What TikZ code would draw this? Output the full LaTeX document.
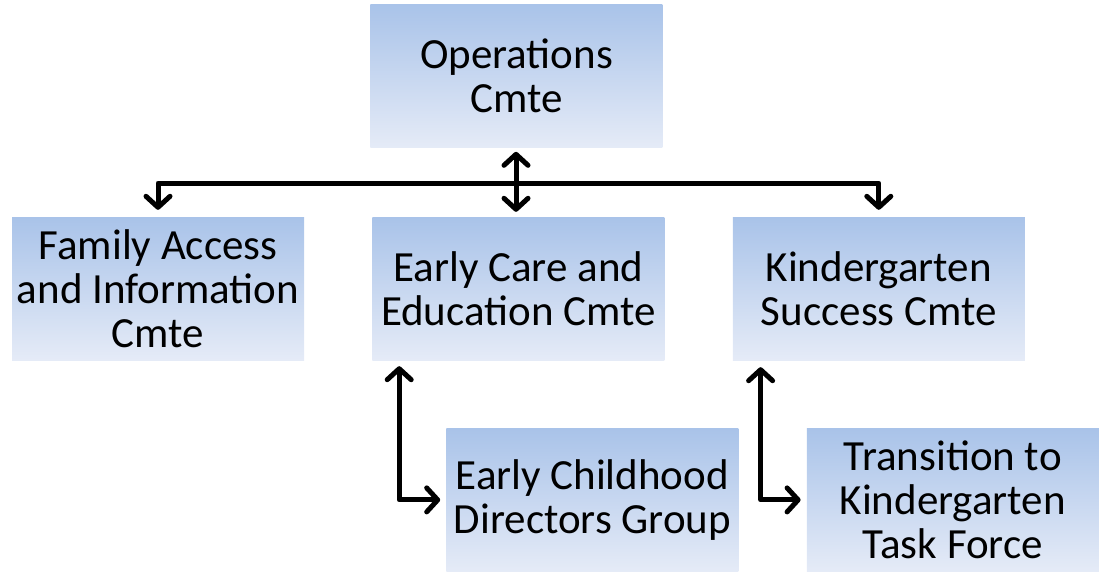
\documentclass[tikz,border=0pt]{standalone}
\usepackage{fontspec}
\setmainfont{Carlito}
\usetikzlibrary{positioning, arrows.meta}

\tikzset{
	cmte/.style={rectangle, minimum width=292pt, minimum height=143pt, inner sep=0pt,
		align=center, top color=cmtetop, bottom color=cmtebottom,
		font=\fontsize{43}{44}\selectfont},
	link/.style={line width=5pt, black, line cap=round, line join=round,
		>={Straight Barb[length=11pt, width=24pt, line cap=round, line join=round]}},
}
\definecolor{cmtetop}{RGB}{169,195,233}
\definecolor{cmtebottom}{RGB}{229,235,247}

\begin{document}
\begin{tikzpicture}[x=1pt, y=-1pt]
	\useasboundingbox (0,0) rectangle (1102,571);

	\node[cmte] (fam) at (158,288.5) {Family Access\\and Information\\Cmte};
	\node[cmte, right=68pt of fam] (ece) {Early Care and\\Education Cmte};
	\node[cmte, right=68pt of ece] (kin) {Kindergarten\\Success Cmte};
	\node[cmte, above=69pt of ece, xshift=-2pt] (ops) {Operations\\Cmte};
	\node[cmte, below=68pt of ece, xshift=74pt] (ecdg) {Early Childhood\\Directors Group};
	\node[cmte, below=68pt of kin, xshift=74pt] (tktf) {Transition to\\Kindergarten\\Task Force};

	\coordinate (bar) at (516,183);

	\draw[link, <->, shorten >=5pt, shorten <=4pt] (ops.south -| bar) -- (ece.north -| bar);
	\draw[link, ->, shorten >=7pt] (bar) -| (fam.north);
	\draw[link, ->, shorten >=7pt] (bar) -| (kin.north);

	\draw[link, <->, shorten >=6pt, shorten <=6pt] ([xshift=27pt]ece.south west) |- (ecdg.west);
	\draw[link, <->, shorten >=6pt, shorten <=7pt] ([xshift=28pt]kin.south west) |- (tktf.west);
\end{tikzpicture}
\end{document}
